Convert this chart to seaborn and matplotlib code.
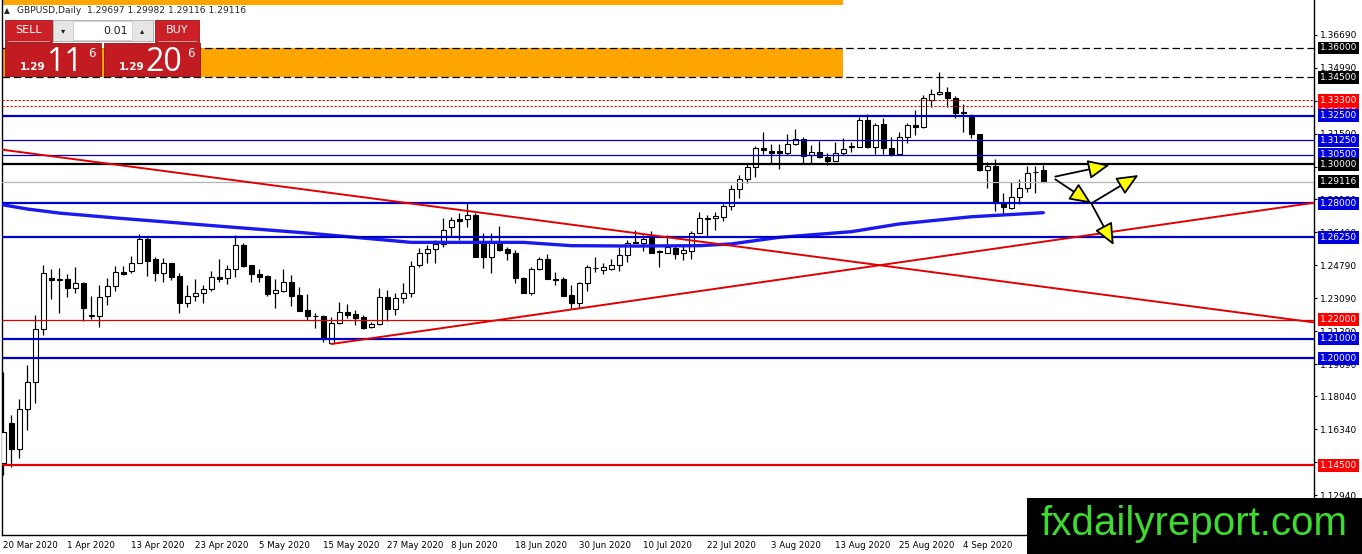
import numpy as np
import pandas as pd
import seaborn as sns
import matplotlib.pyplot as plt
from matplotlib.patches import Rectangle, FancyArrowPatch

# GBPUSD daily candles, bar 0 = 20 Mar 2020
opens = [1.1459, 1.1668, 1.1531, 1.1737, 1.1880, 1.2150, 1.2416, 1.2410, 1.2408, 1.2361,
         1.2387, 1.2219, 1.2220, 1.2322, 1.2375, 1.2447, 1.2452, 1.2493, 1.2614, 1.2512,
         1.2442, 1.2490, 1.2425, 1.2284, 1.2322, 1.2335, 1.2356, 1.2418, 1.2413, 1.2459,
         1.2584, 1.2481, 1.2435, 1.2425, 1.2336, 1.2349, 1.2392, 1.2327, 1.2249, 1.2220,
         1.2218, 1.2078, 1.2181, 1.2241, 1.2229, 1.2212, 1.2163, 1.2177, 1.2318, 1.2253,
         1.2310, 1.2335, 1.2481, 1.2542, 1.2562, 1.2590, 1.2676, 1.2717, 1.2717, 1.2739,
         1.2601, 1.2524, 1.2601, 1.2562, 1.2542, 1.2413, 1.2335, 1.2459, 1.2511, 1.2410,
         1.2408, 1.2327, 1.2287, 1.2390, 1.2466, 1.2456, 1.2459, 1.2481, 1.2533, 1.2598,
         1.2593, 1.2619, 1.2552, 1.2545, 1.2567, 1.2542, 1.2555, 1.2648, 1.2724, 1.2722,
         1.2727, 1.2786, 1.2872, 1.2923, 1.2985, 1.3083, 1.3069, 1.3069, 1.3060, 1.3105,
         1.3129, 1.3048, 1.3065, 1.3040, 1.3019, 1.3057, 1.3089, 1.3091, 1.3229, 1.3088,
         1.3208, 1.3083, 1.3054, 1.3143, 1.3203, 1.3191, 1.3332, 1.3361, 1.3372, 1.3341,
         1.3268, 1.3243, 1.3157, 1.2971, 1.2992, 1.2796, 1.2774, 1.2833, 1.2877, 1.2959,
         1.29697]
highs = [1.1931, 1.1708, 1.1789, 1.1966, 1.2224, 1.2481, 1.2459, 1.2464, 1.2435, 1.2469,
         1.2395, 1.2322, 1.2378, 1.2413, 1.2476, 1.2476, 1.2528, 1.2641, 1.2627, 1.2521,
         1.2516, 1.2493, 1.2442, 1.2378, 1.2408, 1.2378, 1.2452, 1.2511, 1.2481, 1.2636,
         1.2596, 1.2481, 1.2459, 1.2430, 1.2408, 1.2459, 1.2430, 1.2366, 1.2332, 1.2235,
         1.2224, 1.2215, 1.2292, 1.2280, 1.2249, 1.2224, 1.2189, 1.2361, 1.2352, 1.2336,
         1.2387, 1.2504, 1.2567, 1.2584, 1.2610, 1.2722, 1.2730, 1.2751, 1.2803, 1.2751,
         1.2645, 1.2645, 1.2682, 1.2576, 1.2559, 1.2418, 1.2473, 1.2524, 1.2538, 1.2447,
         1.2418, 1.2378, 1.2395, 1.2481, 1.2521, 1.2490, 1.2511, 1.2573, 1.2610, 1.2662,
         1.2636, 1.2658, 1.2559, 1.2636, 1.2584, 1.2584, 1.2658, 1.2756, 1.2739, 1.2756,
         1.2796, 1.2894, 1.2945, 1.3002, 1.3095, 1.3169, 1.3105, 1.3105, 1.3157, 1.3181,
         1.3140, 1.3100, 1.3122, 1.3060, 1.3117, 1.3134, 1.3117, 1.3246, 1.3260, 1.3212,
         1.3238, 1.3140, 1.3169, 1.3215, 1.3280, 1.3358, 1.3387, 1.3478, 1.3397, 1.3353,
         1.3311, 1.3260, 1.3157, 1.3014, 1.3026, 1.2854, 1.2911, 1.2923, 1.2992, 1.2992,
         1.29982]
lows = [1.1399, 1.1438, 1.1488, 1.1631, 1.1768, 1.2121, 1.2306, 1.2235, 1.2318, 1.2339,
        1.2194, 1.2201, 1.2160, 1.2275, 1.2349, 1.2430, 1.2442, 1.2490, 1.2425, 1.2400,
        1.2395, 1.2404, 1.2235, 1.2266, 1.2297, 1.2287, 1.2349, 1.2395, 1.2382, 1.2421,
        1.2473, 1.2395, 1.2395, 1.2322, 1.2258, 1.2344, 1.2270, 1.2244, 1.2198, 1.2155,
        1.2086, 1.2074, 1.2178, 1.2207, 1.2172, 1.2150, 1.2158, 1.2172, 1.2194, 1.2224,
        1.2284, 1.2315, 1.2469, 1.2490, 1.2490, 1.2576, 1.2627, 1.2610, 1.2679, 1.2520,
        1.2464, 1.2442, 1.2555, 1.2507, 1.2387, 1.2335, 1.2327, 1.2456, 1.2408, 1.2378,
        1.2320, 1.2253, 1.2263, 1.2349, 1.2447, 1.2435, 1.2456, 1.2452, 1.2498, 1.2593,
        1.2555, 1.2542, 1.2469, 1.2542, 1.2511, 1.2507, 1.2511, 1.2645, 1.2631, 1.2662,
        1.2710, 1.2765, 1.2825, 1.2903, 1.2937, 1.3054, 1.3002, 1.2975, 1.3048, 1.3100,
        1.3002, 1.3006, 1.3031, 1.2997, 1.3019, 1.3048, 1.3065, 1.3088, 1.3083, 1.3054,
        1.3054, 1.3043, 1.3048, 1.3109, 1.3151, 1.3186, 1.3294, 1.3358, 1.3297, 1.3238,
        1.3169, 1.3134, 1.2967, 1.2877, 1.2761, 1.2751, 1.2768, 1.2796, 1.2859, 1.2854,
        1.29116]
closes = [1.1619, 1.1531, 1.1737, 1.1877, 1.2150, 1.2442, 1.2404, 1.2406, 1.2361, 1.2387,
          1.2258, 1.2222, 1.2318, 1.2375, 1.2447, 1.2435, 1.2490, 1.2614, 1.2504, 1.2442,
          1.2490, 1.2421, 1.2287, 1.2322, 1.2339, 1.2356, 1.2418, 1.2410, 1.2459, 1.2584,
          1.2476, 1.2433, 1.2418, 1.2332, 1.2352, 1.2392, 1.2322, 1.2246, 1.2218, 1.2216,
          1.2098, 1.2181, 1.2241, 1.2224, 1.2210, 1.2155, 1.2177, 1.2318, 1.2253, 1.2310,
          1.2339, 1.2476, 1.2542, 1.2562, 1.2590, 1.2662, 1.2713, 1.2710, 1.2739, 1.2524,
          1.2524, 1.2593, 1.2559, 1.2545, 1.2413, 1.2335, 1.2459, 1.2511, 1.2408, 1.2406,
          1.2322, 1.2287, 1.2390, 1.2469, 1.2464, 1.2469, 1.2481, 1.2533, 1.2596, 1.2594,
          1.2614, 1.2542, 1.2548, 1.2573, 1.2538, 1.2559, 1.2648, 1.2722, 1.2720, 1.2734,
          1.2786, 1.2872, 1.2923, 1.2985, 1.3083, 1.3074, 1.3060, 1.3060, 1.3105, 1.3129,
          1.3043, 1.3065, 1.3037, 1.3019, 1.3057, 1.3078, 1.3093, 1.3229, 1.3088, 1.3203,
          1.3083, 1.3054, 1.3143, 1.3203, 1.3191, 1.3341, 1.3363, 1.3372, 1.3341, 1.3266,
          1.3264, 1.3157, 1.2971, 1.2992, 1.2803, 1.2782, 1.2833, 1.2877, 1.2957, 1.2963,
          1.29116]

date_labels = ['20 Mar 2020', '1 Apr 2020', '13 Apr 2020', '23 Apr 2020', '5 May 2020',
               '15 May 2020', '27 May 2020', '8 Jun 2020', '18 Jun 2020', '30 Jun 2020',
               '10 Jul 2020', '22 Jul 2020', '3 Aug 2020', '13 Aug 2020', '25 Aug 2020',
               '4 Sep 2020']
date_bars = [0, 8, 16, 24, 32, 40, 48, 56, 64, 72, 80, 88, 96, 104, 112, 120]

# moving average line
ma_bars = [0, 3, 7, 14, 25, 38, 51, 65, 71, 79, 87, 91, 97, 106, 112, 121, 130]
ma_vals = [1.2791, 1.2770, 1.2749, 1.2724, 1.2688, 1.2646, 1.2598, 1.2598, 1.2581, 1.2579,
           1.2581, 1.2590, 1.2624, 1.2653, 1.2693, 1.2730, 1.2751]

# horizontal levels (later ones are drawn on top on the price scale)
level_prices = [1.36, 1.345, 1.330, 1.333, 1.325, 1.3125, 1.305, 1.30, 1.29116,
                1.28, 1.2625, 1.22, 1.21, 1.20, 1.145]
level_kinds = ['dash', 'dash', 'dot', 'dot', 'blue2', 'blue1', 'blue1', 'black2', 'grey',
               'blue2', 'blue2', 'red1', 'blue2', 'blue2', 'red2']

# price scale ticks
tick_values = [1.36690, 1.34990, 1.33290, 1.31590, 1.29890, 1.28190, 1.26490, 1.24790,
               1.23090, 1.21390, 1.19690, 1.18040, 1.16340, 1.14640, 1.12940]

# trend lines (bar, price)
down_trend = ([0, 163], [1.3075, 1.2190])
up_trend = ([41, 164], [1.2074, 1.2803])

# yellow arrows (bar, price) start -> end
arrow_from = [(131.5, 1.2937), (131.5, 1.2923), (136.0, 1.2799), (136.0, 1.2799)]
arrow_to = [(138.3, 1.2997), (136.0, 1.2799), (141.9, 1.2945), (138.8, 1.2584)]

# zones
zone_bars = [-5, 105]
zones = [(1.345, 1.360), (1.3822, 1.40)]

header = 'GBPUSD,Daily  1.29697 1.29982 1.29116 1.29116'

sns.set_style('white')
plt.rcParams['font.family'] = ['DejaVu Sans']

df = pd.DataFrame({'o': opens, 'h': highs, 'l': lows, 'c': closes})
df['bar'] = np.arange(len(df))
up = df['c'] >= df['o']

W, H = 1362, 554
fig = plt.figure(figsize=(W / 100, H / 100), dpi=100)
fig.patch.set_facecolor('white')
ax = fig.add_axes([2 / W, 19 / H, 1312 / W, 535 / H])
ax.set_facecolor('white')

# orange zones
for lo, hi in zones:
    ax.add_patch(Rectangle((zone_bars[0], lo), zone_bars[1] - zone_bars[0], hi - lo,
                           facecolor='#FFA500', edgecolor='none', zorder=1))

# candles
ax.vlines(df['bar'], df['l'], df['h'], color='black', lw=0.9, zorder=3)
ax.bar(df['bar'], (df['c'] - df['o']).abs(), bottom=np.minimum(df['o'], df['c']),
       width=0.62, color=np.where(up, 'white', 'black'), edgecolor='black',
       linewidth=0.8, zorder=4)

# moving average
sns.lineplot(x=ma_bars, y=ma_vals, ax=ax, color='#1A1AF0', lw=2.4, zorder=5)

styles = {
    'dash': dict(color='black', lw=0.9, dashes=(6, 3)),
    'dot': dict(color='#E00000', lw=0.8, dashes=(2, 1.6)),
    'blue2': dict(color='#0000C8', lw=1.6),
    'blue1': dict(color='#0000C8', lw=0.9),
    'black2': dict(color='black', lw=1.6),
    'grey': dict(color='#B4B4B4', lw=0.9),
    'red1': dict(color='#E00000', lw=0.9),
    'red2': dict(color='#E00000', lw=1.6),
}
box_colors = {'dash': 'black', 'dot': '#FF0000', 'blue2': '#0000DD', 'blue1': '#0000DD',
              'black2': 'black', 'grey': 'black', 'red1': '#FF0000', 'red2': '#FF0000'}

for p, k in zip(level_prices, level_kinds):
    st = dict(styles[k])
    dashes = st.pop('dashes', None)
    ln = ax.axhline(p, zorder=6, **st)
    if dashes:
        ln.set_dashes(dashes)

# trend lines
ax.axline((down_trend[0][0], down_trend[1][0]), (down_trend[0][1], down_trend[1][1]),
          color='#E00000', lw=1.4, zorder=6)
ax.plot(up_trend[0], up_trend[1], color='#E00000', lw=1.4, zorder=6)

# arrows
for a, b in zip(arrow_from, arrow_to):
    ax.add_patch(FancyArrowPatch(a, b, arrowstyle='-|>,head_length=0.95,head_width=0.42',
                                 mutation_scale=14, facecolor='#FFFF00', edgecolor='black',
                                 lw=1.3, shrinkA=0, shrinkB=0, zorder=8))

ax.set_xlim(-0.1625, 163.84)
ax.set_ylim(1.10895, 1.38474)

# price scale
ax.yaxis.tick_right()
ax.set_yticks(tick_values)
ax.set_yticklabels([f'{v:.5f}' for v in tick_values])
ax.tick_params(axis='y', length=2.5, pad=2, labelsize=6.5, colors='black')
for i, (p, k) in enumerate(zip(level_prices, level_kinds)):
    ax.annotate(f'{p:.5f}', xy=(1, p), xycoords=ax.get_yaxis_transform(),
                xytext=(4.2, 0), textcoords='offset points', va='center', ha='left',
                fontsize=6.5, color='white', annotation_clip=False, zorder=20 + i,
                bbox=dict(boxstyle='square,pad=0.22', facecolor=box_colors[k],
                          edgecolor='none'))

# time scale
ax.set_xticks(date_bars)
ax.set_xticklabels(date_labels)
plt.setp(ax.get_xticklabels(), ha='left')
ax.tick_params(axis='x', length=2, pad=2, labelsize=6.2, colors='black')
ax.tick_params(axis='both', direction='out')

for s in ['left', 'bottom', 'right']:
    ax.spines[s].set_color('black')
    ax.spines[s].set_linewidth(1)
ax.spines['top'].set_visible(False)

# overlay: trade panel, header, watermark (pixel coordinates)
ov = fig.add_axes([0, 0, 1, 1], zorder=10)
ov.set_xlim(0, W)
ov.set_ylim(H, 0)
ov.axis('off')
ov.patch.set_alpha(0)

ov.text(7, 10.5, '\u25b2', fontsize=5.5, ha='center', va='center')
ov.text(17, 10.5, header, fontsize=6.6, ha='left', va='center')

red = '#CC2027'
ov.add_patch(Rectangle((5, 20), 47, 22, facecolor=red, edgecolor='#9E1318', lw=0.6))
ov.add_patch(Rectangle((155, 20), 44, 22, facecolor=red, edgecolor='#9E1318', lw=0.6))
ov.plot([8, 49], [40.5, 40.5], color='#E8A0A0', lw=0.6)
ov.plot([158, 196], [40.5, 40.5], color='#E8A0A0', lw=0.6)
ov.text(28.5, 30, 'SELL', fontsize=8, color='white', ha='center', va='center')
ov.text(177, 30, 'BUY', fontsize=8, color='white', ha='center', va='center')
ov.add_patch(Rectangle((53, 20), 100, 21, facecolor='#E6E6E6', edgecolor='#A8A8A8', lw=0.6))
ov.add_patch(Rectangle((73, 21), 59, 19, facecolor='white', edgecolor='#C8C8C8', lw=0.5))
ov.text(63, 30.5, '\u25be', fontsize=6, ha='center', va='center', color='#202020')
ov.text(142, 30.5, '\u25b4', fontsize=6, ha='center', va='center', color='#202020')
ov.text(128, 30.5, '0.01', fontsize=8, ha='right', va='center', color='#202020')

for x0, big in [(5, '11'), (104, '20')]:
    ov.add_patch(Rectangle((x0, 43), 96, 33, facecolor='#C21B22', edgecolor='#8E1015', lw=0.6))
    ov.text(x0 + 15, 70, '1.29', fontsize=7.5, fontweight='bold', color='white',
            ha='left', va='baseline')
    ov.text(x0 + 41, 71, big, fontsize=23, color='white', ha='left', va='baseline',
            family='Open Sans')
    ov.text(x0 + 83, 57, '6', fontsize=8.5, color='white', ha='left', va='baseline')

ov.add_patch(Rectangle((1027, 498), W - 1027, H - 498, facecolor='black', edgecolor='none'))
ov.text(1194, 524, 'fxdailyreport.com', fontsize=29, color='#3DDB2F', ha='center',
        va='center', family='Liberation Sans')

fig.savefig('out.png', dpi=100)
plt.close(fig)
